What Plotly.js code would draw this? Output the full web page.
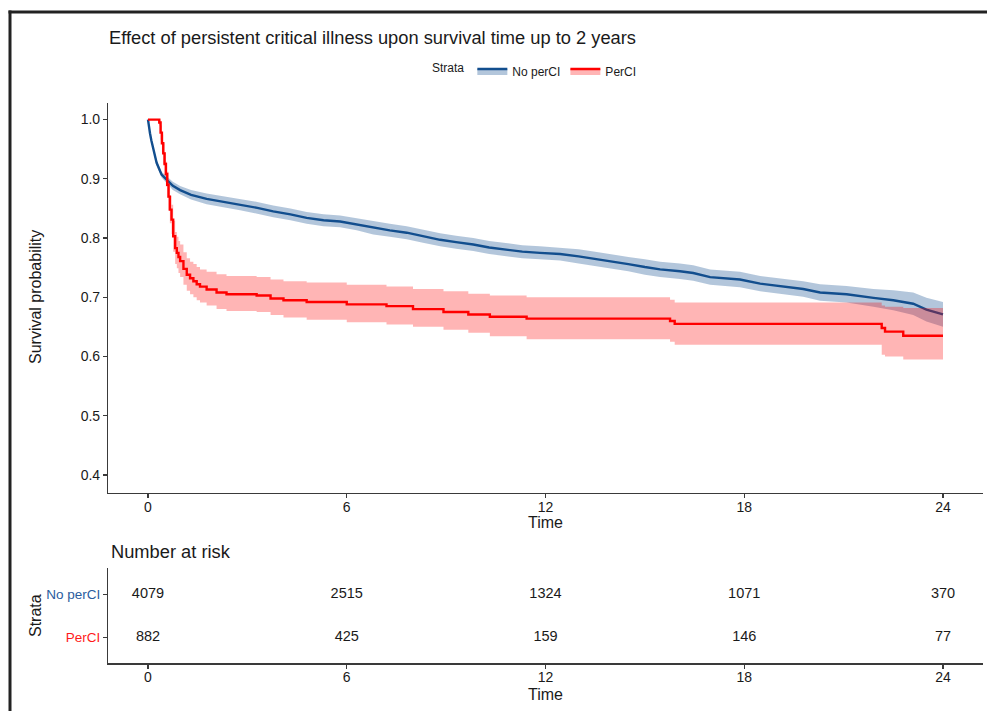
<!DOCTYPE html>
<html>
<head>
<meta charset="utf-8">
<script src="https://cdn.plot.ly/plotly-3.0.1.min.js"></script>
<style>html,body{margin:0;padding:0;background:#fff;}#chart{width:987px;height:711px;}</style>
</head>
<body>
<div id="chart"></div>
<script>
// ---- Data ----
const strata = ["No perCI", "PerCI"];

// No perCI (blue) Kaplan-Meier estimate and confidence band
const noTime  = [0, 0.02, 0.06, 0.10, 0.16, 0.26, 0.41, 0.56, 0.75, 0.97, 1.30, 1.77, 2.30, 2.78, 3.30, 3.78, 4.30, 4.79, 5.30, 5.80, 6.30, 6.80, 7.30, 7.81, 8.30, 8.82, 9.30, 9.82, 10.30, 10.83, 11.30, 11.83, 12.44, 13.00, 13.50, 14.00, 14.50, 15.00, 15.46, 16.06, 16.46, 16.97, 17.87, 18.48, 19.08, 19.78, 20.29, 21.09, 21.90, 22.50, 23.10, 23.50, 24.00];
const noSurv  = [1.000, 0.990, 0.977, 0.965, 0.949, 0.927, 0.907, 0.898, 0.888, 0.881, 0.873, 0.866, 0.861, 0.856, 0.851, 0.845, 0.840, 0.834, 0.830, 0.828, 0.823, 0.817, 0.813, 0.809, 0.803, 0.797, 0.793, 0.789, 0.784, 0.780, 0.777, 0.775, 0.773, 0.769, 0.765, 0.760, 0.756, 0.751, 0.747, 0.744, 0.741, 0.734, 0.730, 0.723, 0.719, 0.714, 0.708, 0.705, 0.699, 0.695, 0.689, 0.679, 0.671];
const noUpper = [1.000, 0.992, 0.980, 0.968, 0.953, 0.932, 0.912, 0.904, 0.895, 0.888, 0.881, 0.875, 0.870, 0.865, 0.861, 0.855, 0.850, 0.844, 0.840, 0.838, 0.833, 0.828, 0.824, 0.820, 0.814, 0.808, 0.804, 0.800, 0.795, 0.791, 0.788, 0.786, 0.784, 0.781, 0.777, 0.772, 0.768, 0.764, 0.760, 0.757, 0.754, 0.747, 0.743, 0.736, 0.732, 0.727, 0.722, 0.719, 0.714, 0.712, 0.708, 0.699, 0.692];
const noLower = [1.000, 0.988, 0.974, 0.962, 0.945, 0.922, 0.902, 0.892, 0.881, 0.874, 0.865, 0.857, 0.852, 0.847, 0.841, 0.835, 0.830, 0.824, 0.820, 0.818, 0.813, 0.806, 0.802, 0.798, 0.792, 0.786, 0.782, 0.778, 0.773, 0.769, 0.766, 0.764, 0.762, 0.757, 0.753, 0.748, 0.744, 0.738, 0.734, 0.731, 0.728, 0.721, 0.717, 0.710, 0.706, 0.701, 0.694, 0.691, 0.684, 0.678, 0.670, 0.659, 0.650];

// PerCI (red) Kaplan-Meier estimate and confidence band
const perTime  = [0, 0.34, 0.38, 0.42, 0.46, 0.50, 0.54, 0.58, 0.62, 0.66, 0.71, 0.76, 0.82, 0.87, 0.92, 0.97, 1.07, 1.17, 1.27, 1.37, 1.47, 1.57, 1.77, 2.07, 2.37, 3.28, 3.70, 4.09, 4.79, 6.00, 7.20, 8.00, 8.92, 9.67, 10.32, 11.43, 15.76, 15.90, 22.15, 22.25, 22.80, 24.00];
const perSurv  = [1.000, 0.995, 0.978, 0.960, 0.943, 0.925, 0.908, 0.890, 0.870, 0.848, 0.831, 0.803, 0.783, 0.775, 0.768, 0.761, 0.748, 0.738, 0.732, 0.727, 0.722, 0.718, 0.713, 0.708, 0.705, 0.703, 0.698, 0.695, 0.692, 0.688, 0.685, 0.680, 0.675, 0.671, 0.667, 0.664, 0.660, 0.655, 0.648, 0.642, 0.635, 0.635];
const perUpper = [1.000, 1.000, 0.990, 0.975, 0.960, 0.945, 0.929, 0.912, 0.893, 0.872, 0.856, 0.829, 0.810, 0.802, 0.795, 0.789, 0.776, 0.766, 0.760, 0.756, 0.751, 0.747, 0.743, 0.739, 0.736, 0.734, 0.730, 0.727, 0.725, 0.721, 0.718, 0.714, 0.710, 0.706, 0.703, 0.700, 0.696, 0.691, 0.686, 0.684, 0.682, 0.682];
const perLower = [1.000, 0.990, 0.966, 0.945, 0.925, 0.905, 0.887, 0.868, 0.847, 0.825, 0.807, 0.777, 0.756, 0.749, 0.741, 0.734, 0.721, 0.711, 0.705, 0.700, 0.695, 0.691, 0.686, 0.680, 0.677, 0.675, 0.670, 0.666, 0.662, 0.658, 0.654, 0.650, 0.645, 0.640, 0.634, 0.629, 0.625, 0.620, 0.603, 0.600, 0.595, 0.595];

// Number at risk table
const riskTimes = [0, 6, 12, 18, 24];
const riskNo  = [4079, 2515, 1324, 1071, 370];
const riskPer = [882, 425, 159, 146, 77];

// Tick labels
const xTicks = [0, 6, 12, 18, 24];
const yTicks = [0.4, 0.5, 0.6, 0.7, 0.8, 0.9, 1.0];

// ---- Styling ----
const W = 987, H = 711;
const px = v => v / W;
const py = v => 1 - v / H;
const BLUE = "#124E8E", BLUE_TXT = "#2A5C9E", BLUE_FILL = "rgba(18,78,142,0.32)";
const RED = "#FF0000", RED_FILL = "rgba(255,0,0,0.29)";
const FONT = "Liberation Sans, Arial, Helvetica, sans-serif";
const TXT = "#1a1a1a", AX = "#3a3a3a";

const traces = [
  {x: noTime, y: noLower, type: "scatter", mode: "lines", line: {width: 0, shape: "linear"}, showlegend: false, hoverinfo: "skip", xaxis: "x", yaxis: "y"},
  {x: noTime, y: noUpper, type: "scatter", mode: "lines", line: {width: 0, shape: "linear"}, fill: "tonexty", fillcolor: BLUE_FILL, showlegend: false, hoverinfo: "skip", xaxis: "x", yaxis: "y"},
  {x: noTime, y: noSurv, type: "scatter", mode: "lines", line: {color: BLUE, width: 2.4, shape: "linear"}, showlegend: false, xaxis: "x", yaxis: "y"},
  {x: perTime, y: perLower, type: "scatter", mode: "lines", line: {width: 0, shape: "hv"}, showlegend: false, hoverinfo: "skip", xaxis: "x", yaxis: "y"},
  {x: perTime, y: perUpper, type: "scatter", mode: "lines", line: {width: 0, shape: "hv"}, fill: "tonexty", fillcolor: RED_FILL, showlegend: false, hoverinfo: "skip", xaxis: "x", yaxis: "y"},
  {x: perTime, y: perSurv, type: "scatter", mode: "lines", line: {color: RED, width: 2.4, shape: "hv"}, showlegend: false, xaxis: "x", yaxis: "y"},
  // legend entries
  {x: [null], y: [null], type: "scatter", mode: "lines", name: strata[0], fill: "toself", fillcolor: BLUE_FILL, line: {color: BLUE, width: 2.5}, xaxis: "x", yaxis: "y"},
  {x: [null], y: [null], type: "scatter", mode: "lines", name: strata[1], fill: "toself", fillcolor: RED_FILL, line: {color: RED, width: 2.5}, xaxis: "x", yaxis: "y"},
  // risk table
  {x: riskTimes, y: riskTimes.map(() => 2), text: riskNo.map(String), type: "scatter", mode: "text", textfont: {family: FONT, size: 14.5, color: TXT}, showlegend: false, xaxis: "x2", yaxis: "y2", hoverinfo: "skip"},
  {x: riskTimes, y: riskTimes.map(() => 1), text: riskPer.map(String), type: "scatter", mode: "text", textfont: {family: FONT, size: 14.5, color: TXT}, showlegend: false, xaxis: "x2", yaxis: "y2", hoverinfo: "skip"}
];

const axisCommon = {
  showgrid: false, zeroline: false, showline: true, linecolor: AX, linewidth: 1.3,
  ticks: "outside", ticklen: 4, tickwidth: 1.3, tickcolor: AX,
  tickfont: {family: FONT, size: 14, color: TXT}, fixedrange: true
};

function ann(text, x, y, extra) {
  return Object.assign({text: text, x: px(x), y: py(y), xref: "paper", yref: "paper", xanchor: "center", yanchor: "middle",
                        showarrow: false, font: {family: FONT, size: 16, color: TXT}}, extra || {});
}

const layout = {
  width: W, height: H,
  margin: {l: 0, r: 0, t: 0, b: 0},
  paper_bgcolor: "#ffffff", plot_bgcolor: "#ffffff",
  font: {family: FONT, color: TXT},
  title: {text: "Effect of persistent critical illness upon survival time up to 2 years",
          x: px(109), xanchor: "left", xref: "paper", y: py(38), yanchor: "middle", yref: "paper",
          font: {family: FONT, size: 18.3, color: TXT}},
  showlegend: true,
  legend: {orientation: "h", traceorder: "normal", x: px(430), xanchor: "left", y: py(71), yanchor: "middle",
           font: {family: FONT, size: 12, color: TXT}, title: {text: "Strata", font: {family: FONT, size: 12, color: TXT}},
           itemwidth: 30, bgcolor: "rgba(0,0,0,0)", tracegroupgap: 0},
  xaxis: Object.assign({}, axisCommon, {domain: [px(108.25), px(982.75)], range: [-1.2, 25.2], tickvals: xTicks, anchor: "y", ticklabelstandoff: -3}),
  yaxis: Object.assign({}, axisCommon, {domain: [py(492.7), py(103)], range: [0.37, 1.028], tickvals: yTicks, tickformat: ".1f", anchor: "x"}),
  xaxis2: Object.assign({}, axisCommon, {domain: [px(108.25), px(982.75)], range: [-1.2, 25.2], tickvals: xTicks, anchor: "y2", ticklabelstandoff: -3}),
  yaxis2: Object.assign({}, axisCommon, {domain: [py(663.3), py(568.3)], range: [0.4, 2.6], tickvals: [2, 1],
           ticktext: ['<span style="color:' + BLUE_TXT + '">' + strata[0] + '</span>', '<span style="color:#FF1A1A">' + strata[1] + '</span>'],
           tickfont: {family: FONT, size: 13.5, color: TXT}, anchor: "x2"}),
  annotations: [
    ann("Survival probability", 35, 297, {textangle: -90}),
    ann("Time", 545, 522.5),
    ann("Number at risk", 109, 551, {xanchor: "left", font: {family: FONT, size: 18.3, color: TXT}}),
    ann("Strata", 35, 616, {textangle: -90}),
    ann("Time", 545, 694.5)
  ],
  shapes: [
    {type: "line", xref: "paper", yref: "paper", x0: px(8.5), x1: 1.01, y0: py(12), y1: py(12), line: {color: "#222", width: 3}, layer: "above"},
    {type: "line", xref: "paper", yref: "paper", x0: px(10), x1: px(10), y0: py(10.5), y1: -0.01, line: {color: "#222", width: 3}, layer: "above"}
  ]
};

Plotly.newPlot("chart", traces, layout, {staticPlot: true, displayModeBar: false});
</script>
</body>
</html>
